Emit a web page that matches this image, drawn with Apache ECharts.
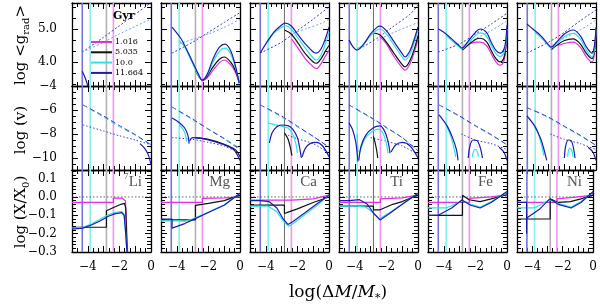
<!DOCTYPE html>
<html><head><meta charset="utf-8">
<script src="https://cdn.jsdelivr.net/npm/echarts@6/dist/echarts.min.js"></script>
<style>html,body{margin:0;padding:0;background:#fff}#c{width:600px;height:304px}</style>
</head><body><div id="c"></div>
<script>
// ---------------- DATA ----------------
const ELEMENTS = ['Li','Mg','Ca','Ti','Fe','Ni'];
const AGES = ['1.016','5.035','10.0','11.664'];          // legend order (magenta, black, cyan, blue)
const CZ_BASE = [-4.35,-3.85,-2.82,-2.38];              // vertical lines: 11.664, 10.0, 5.035, 1.016 Gyr
const X_LABELS = [-4,-2,0];
const Y1_LABELS = [4,5];
const Y2_LABELS = [-10,-8,-6,-4];
const Y3_LABELS = [-0.3,-0.2,-0.1,0,0.1];

// Row 1: log <g_rad>  curves order [11.664 blue, 10.0 cyan, 5.035 black, 1.016 magenta]
const GRAD_LI = [[[-4.35,3.72],[-4.15,3.5],[-3.95,3.2]],[],[],[]];
const GRAD_MG = [
 [[-4.3,5.06],[-3.75,4.72],[-3.5,4.5],[-3,4.0],[-2.6,3.6],[-2.4,3.45],[-2.1,3.6],[-1.7,4.1],[-1.3,4.45],[-0.95,4.54],[-0.6,4.35],[-0.3,3.9],[-0.05,3.36]],
 [[-3.85,4.65],[-3.5,4.45],[-3,3.95],[-2.6,3.55],[-2.4,3.45],[-2.1,3.58],[-1.7,4.0],[-1.3,4.33],[-0.95,4.42],[-0.6,4.25],[-0.3,3.85],[-0.05,3.36]],
 [[-2.82,3.75],[-2.6,3.55],[-2.4,3.45],[-2.1,3.55],[-1.7,3.85],[-1.3,4.08],[-1.0,4.15],[-0.6,4.0],[-0.3,3.75],[-0.05,3.36]],
 [[-2.38,3.42],[-2.1,3.5],[-1.7,3.75],[-1.3,3.98],[-1.0,4.06],[-0.6,3.92],[-0.3,3.7],[-0.05,3.36]]
];
const GRAD_CA = [
 [[-4.35,4.27],[-4,4.55],[-3.5,4.9],[-3,5.12],[-2.78,5.18],[-2.4,5.1],[-2,4.85],[-1.5,4.55],[-1.0,4.3],[-0.8,4.27],[-0.5,4.4],[-0.2,4.75],[0,5.06]],
 [[-3.85,4.62],[-3.5,4.87],[-3,5.05],[-2.75,5.1],[-2.4,5.0],[-2,4.75],[-1.5,4.42],[-1,4.12],[-0.8,4.06],[-0.5,4.22],[-0.2,4.6],[0,4.9]],
 [[-2.82,4.97],[-2.4,4.85],[-2,4.6],[-1.5,4.25],[-1,4.0],[-0.8,3.96],[-0.5,4.1],[-0.2,4.35],[0,4.5]],
 [[-2.38,4.7],[-2,4.45],[-1.5,4.1],[-1,3.85],[-0.8,3.8],[-0.5,3.95],[-0.2,4.2],[0,4.35]]
];
const GRAD_TI = [
 [[-4.37,4.67],[-4.1,4.45],[-3.86,4.36],[-3.5,4.5],[-3,4.85],[-2.6,5.05],[-2.4,5.09],[-2,4.95],[-1.5,4.6],[-1.0,4.25],[-0.82,4.15],[-0.5,4.35],[-0.2,4.75],[0,5.06]],
 [[-3.86,4.4],[-3.5,4.5],[-3,4.8],[-2.6,4.97],[-2.4,5.0],[-2,4.85],[-1.5,4.5],[-1,4.15],[-0.82,4.06],[-0.5,4.25],[-0.2,4.65],[0,4.95]],
 [[-2.82,4.88],[-2.4,4.82],[-2,4.6],[-1.5,4.25],[-1,3.92],[-0.82,3.85],[-0.5,4.05],[-0.2,4.45],[0,4.8]],
 [[-2.38,4.76],[-2,4.55],[-1.5,4.15],[-1,3.82],[-0.82,3.75],[-0.5,3.95],[-0.2,4.35],[0,4.7]]
];
const GRAD_FE = [
 [[-4.35,5.0],[-4,4.9],[-3.5,4.7],[-3,4.48],[-2.85,4.42],[-2.5,4.6],[-2,4.9],[-1.7,5.0],[-1.3,4.9],[-1,4.6],[-0.7,4.35],[-0.44,4.27],[-0.2,4.38],[-0.08,4.65],[0,5.12]],
 [[-3.85,4.8],[-3.5,4.65],[-3,4.45],[-2.85,4.4],[-2.5,4.55],[-2,4.8],[-1.7,4.88],[-1.3,4.78],[-1,4.5],[-0.7,4.25],[-0.44,4.16],[-0.2,4.28],[-0.08,4.55],[0,5.0]],
 [[-2.82,4.36],[-2.5,4.5],[-2,4.68],[-1.7,4.72],[-1.3,4.62],[-1,4.35],[-0.7,4.1],[-0.44,4.0],[-0.2,4.12],[-0.08,4.45],[0,4.9]],
 [[-2.38,4.55],[-2,4.6],[-1.7,4.6],[-1.3,4.5],[-1,4.25],[-0.7,4.0],[-0.44,3.9],[-0.2,4.02],[-0.08,4.4],[0,4.85]]
];
const GRAD_NI = [
 [[-4.37,5.15],[-4,5.0],[-3.5,4.8],[-3,4.52],[-2.85,4.45],[-2.5,4.6],[-2,4.85],[-1.45,4.97],[-1,4.8],[-0.6,4.45],[-0.25,4.27],[-0.1,4.5],[0,5.06]],
 [[-3.85,4.9],[-3.5,4.75],[-3,4.5],[-2.85,4.42],[-2.5,4.55],[-2,4.77],[-1.45,4.87],[-1,4.7],[-0.6,4.35],[-0.25,4.15],[-0.1,4.4],[0,5.0]],
 [[-2.82,4.38],[-2.5,4.5],[-2,4.65],[-1.45,4.7],[-1,4.55],[-0.6,4.25],[-0.25,4.1],[-0.1,4.35],[0,4.95]],
 [[-2.38,4.5],[-2,4.56],[-1.45,4.6],[-1,4.45],[-0.6,4.15],[-0.25,4.0],[-0.1,4.25],[0,4.9]]
];
// Row 1 dotted lines [dark blue, light blue]
const GDOT_LI = [[[-4.35,4.3],[-3,4.75],[-2,5.1],[-1,5.45],[0,5.8]], [[-4.35,4.3],[-3,4.6],[-2,4.85],[-1,5.08],[0,5.3]]];
const GDOT_MG = [[[-4.3,4.27],[-3,4.6],[-2,4.9],[-1,5.2],[0,5.5]], [[-3.85,4.55],[-2,4.85],[-1,5.05],[0,5.3]]];
const GDOT_CA = [[[-4.35,4.27],[-3,4.6],[-2,4.95],[-1,5.3],[0,5.67]], [[-2.5,4.85],[-1.5,5.0],[-0.5,5.17],[0,5.3]]];
const GDOT_TI = [[[-3.5,4.45],[-2.5,4.75],[-1.5,5.1],[-0.5,5.45],[0,5.73]], [[-2.6,4.65],[-1.5,4.9],[-0.5,5.1],[0,5.2]]];
const GDOT_FE = [[[-4.35,4.3],[-3,4.55],[-2,4.85],[-1,5.15],[0,5.48]], [[-2.8,4.5],[-2,4.7],[-1,4.95],[0,5.25]]];
const GDOT_NI = [[[-4.37,4.27],[-3,4.6],[-2,4.9],[-1,5.25],[0,5.58]], [[-2.8,4.5],[-2,4.72],[-1,4.97],[0,5.27]]];

// Row 2: log(v) solid segments per curve [blue, cyan, black, magenta]
const VEL_LI = [[[[-0.7,-8.8],[-0.4,-9.2],[-0.15,-9.8],[0,-10.6]]],[],[],[]];
const VEL_MG = [
 [[[-4.3,-6.67],[-3.9,-7.0],[-3.5,-7.5],[-3.3,-8.1],[-3.22,-8.8]], [[-3.2,-8.6],[-3.0,-8.3],[-2.5,-8.35],[-2,-8.5],[-1,-8.9],[-0.4,-9.3],[0,-10.2]]],
 [[[-3.85,-7.25],[-3.6,-7.6],[-3.45,-8.1],[-3.38,-8.6]]],
 [[[-2.82,-8.3],[-2,-8.45],[-1,-8.85],[-0.3,-9.3],[0,-9.9]]],
 []
];
const VEL_CA = [
 [[[-3.77,-8.75],[-3.6,-7.9],[-3.3,-7.4],[-3.0,-7.25],[-2.6,-7.3],[-2.3,-7.6],[-2.0,-8.3],[-1.85,-9.2],[-1.75,-10.0]], [[-1.7,-9.9],[-1.5,-9.2],[-1.2,-8.8],[-0.8,-8.7],[-0.4,-9.0],[0,-9.9]]],
 [[[-3.85,-7.1],[-3.5,-7.2],[-3.0,-7.35],[-2.6,-7.5],[-2.3,-8.0],[-2.1,-8.8],[-2.0,-9.6]]],
 [[[-2.82,-7.9],[-2.6,-8.4],[-2.45,-9.1],[-2.35,-9.8]]],
 []
];
const VEL_TI = [
 [[[-4.37,-7.1],[-4.15,-7.6],[-3.95,-8.6],[-3.85,-9.6],[-3.8,-10.3]], [[-3.75,-10.2],[-3.6,-9.0],[-3.3,-8.1],[-2.85,-7.5],[-2.4,-7.33],[-2.1,-7.8],[-1.9,-8.6],[-1.77,-9.6]], [[-1.7,-9.5],[-1.4,-8.9],[-1.0,-8.7],[-0.5,-9.0],[0,-10.0]]],
 [[[-3.85,-8.0],[-3.8,-9.5]], [[-3.7,-9.6],[-3.4,-8.5],[-3.0,-7.9],[-2.5,-7.6],[-2.2,-8.0],[-2.0,-8.8],[-1.9,-9.6]]],
 [[[-2.82,-8.2],[-2.7,-8.8],[-2.6,-9.5],[-2.55,-10.0]]],
 []
];
const VEL_FE = [
 [[[-4.3,-6.4],[-3.8,-7.3],[-3.45,-8.3],[-3.2,-9.3],[-3.1,-10.2]], [[-2.45,-10.0],[-2.35,-9.0],[-2.15,-8.5],[-1.9,-8.55],[-1.7,-9.1],[-1.55,-10.0]], [[-0.5,-9.1],[-0.2,-9.5],[0,-10.2]]],
 [[[-3.85,-7.25],[-3.55,-8.2],[-3.35,-9.2],[-3.25,-9.9]], [[-2.2,-9.9],[-2.05,-9.3],[-1.95,-9.3],[-1.8,-9.9]]],
 [], []
];
const VEL_NI = [
 [[[-4.37,-6.5],[-3.9,-7.3],[-3.5,-8.4],[-3.25,-9.5],[-3.12,-10.2]], [[-2.0,-10.0],[-1.92,-9.0],[-1.75,-8.5],[-1.55,-8.6],[-1.42,-9.2],[-1.33,-10.0]], [[-0.5,-9.1],[-0.2,-9.5],[0,-10.2]]],
 [[[-3.85,-7.3],[-3.6,-8.2],[-3.4,-9.2],[-3.3,-9.8]], [[-1.8,-9.9],[-1.68,-9.2],[-1.55,-9.3],[-1.45,-9.9]]],
 [], []
];
// Row 2 broken lines [blue dashed, cyan dashed, blue dotted]
const VDASH_LI = [[[-4.3,-5.58],[-3,-6.5],[-2,-7.3],[-1,-8.05],[0,-8.9]], [[-3.85,-5.95],[-3,-6.6],[-2,-7.4],[-1,-8.1],[0,-8.9]], [[-4.3,-7.25],[-3,-7.75],[-2,-8.15],[-1,-8.5],[0,-8.9]]];
const VDASH_MG = [[[-4.3,-5.75],[-3,-6.75],[-2,-7.6],[-1,-8.4],[0,-9.3]], [[-3.85,-6.15],[-3,-6.8],[-2,-7.6],[-1,-8.35],[0,-9.2]], [[-4.3,-8.3],[-3,-8.45],[-2,-8.7],[-1,-9.0],[0,-9.6]]];
const VDASH_CA = [[[-4.35,-5.58],[-3,-6.5],[-2,-7.35],[-1,-8.2],[0,-9.1]], [[-3.85,-5.95],[-3,-6.6],[-2,-7.4],[-1,-8.2],[0,-9.1]], [[-2.6,-8.1],[-2,-8.4],[-1,-8.8],[0,-9.6]]];
const VDASH_TI = [[[-4.37,-5.58],[-3,-6.6],[-2,-7.45],[-1,-8.3],[0,-9.4]], [[-3.85,-6.0],[-3,-6.65],[-2,-7.5],[-1,-8.3],[0,-9.4]], [[-3.0,-8.3],[-2,-8.6],[-1,-9.0],[0,-9.7]]];
const VDASH_FE = [[[-4.3,-5.58],[-3,-6.5],[-2,-7.3],[-1,-8.05],[0,-8.9]], [[-3.85,-5.9],[-3,-6.55],[-2,-7.35],[-1,-8.1],[0,-8.9]], [[-2.9,-8.0],[-2,-8.5],[-1,-8.8],[0,-9.3]]];
const VDASH_NI = [[[-4.37,-5.8],[-3,-6.6],[-2,-7.35],[-1,-8.1],[0,-8.95]], [[-3.85,-6.05],[-3,-6.65],[-2,-7.4],[-1,-8.15],[0,-8.95]], [[-2.9,-8.0],[-2,-8.45],[-1,-8.8],[0,-9.3]]];

// Row 3: log(X/X0) [blue, cyan, black, magenta]
const ABUN_LI = [
 [[-5,-0.175],[-4.3,-0.17],[-3.7,-0.15],[-3.2,-0.13],[-2.7,-0.105],[-2.3,-0.092],[-1.85,-0.085],[-1.7,-0.1],[-1.6,-0.2],[-1.52,-0.3]],
 [[-5,-0.17],[-4.3,-0.165],[-3.7,-0.145],[-3.2,-0.12],[-2.7,-0.097],[-2.3,-0.085],[-1.85,-0.078],[-1.7,-0.095],[-1.6,-0.2],[-1.53,-0.3]],
 [[-5,-0.165],[-2.82,-0.165],[-2.82,-0.075],[-2.3,-0.055],[-1.9,-0.04],[-1.68,-0.035],[-1.6,-0.06],[-1.52,-0.3]],
 [[-5,-0.03],[-2.38,-0.03],[-2.38,-0.006],[-1.85,-0.006],[-1.62,-0.02],[-1.55,-0.15],[-1.48,-0.3]]
];
const ABUN_MG = [
 [[-5,-0.12],[-4.3,-0.12],[-4.3,-0.17],[-3.5,-0.145],[-3,-0.125],[-2,-0.085],[-1,-0.045],[0,0.02]],
 [[-5,-0.13],[-3.85,-0.13],[-3.5,-0.133],[-3,-0.12],[-2,-0.082],[-1,-0.042],[0,0.02]],
 [[-5,-0.125],[-2.82,-0.125],[-2.82,-0.046],[-2,-0.035],[-1,-0.02],[0,0.01]],
 [[-5,-0.03],[-2.38,-0.03],[-2.38,-0.008],[-1,-0.005],[0,0.0]]
];
const ABUN_CA = [
 [[-5,-0.02],[-4.35,-0.02],[-3.8,-0.025],[-3.3,-0.06],[-2.9,-0.12],[-2.6,-0.15],[-2.3,-0.135],[-1.5,-0.085],[-0.8,-0.04],[0,0.01]],
 [[-5,-0.05],[-3.85,-0.05],[-3.3,-0.08],[-2.9,-0.13],[-2.55,-0.16],[-2.2,-0.14],[-1.5,-0.095],[-0.8,-0.05],[0,0.01]],
 [[-5,-0.045],[-2.82,-0.045],[-2.82,-0.09],[-2.5,-0.08],[-2,-0.065],[-1,-0.03],[0,0.0]],
 [[-5,-0.017],[-2.38,-0.017],[-1,-0.01],[0,0.01]]
];
const ABUN_TI = [
 [[-5,-0.02],[-4.35,-0.02],[-3.7,-0.015],[-3.2,-0.04],[-2.8,-0.09],[-2.4,-0.125],[-1.8,-0.09],[-1,-0.04],[0,0.02]],
 [[-5,-0.05],[-3.85,-0.05],[-3.3,-0.055],[-2.8,-0.09],[-2.45,-0.12],[-1.8,-0.085],[-1,-0.04],[0,0.02]],
 [[-5,-0.05],[-2.82,-0.05],[-2.82,-0.07],[-2.4,-0.07],[-1.6,-0.04],[-1,-0.025],[0,0.01]],
 [[-5,-0.03],[-2.38,-0.03],[-2.38,-0.01],[-1,-0.005],[0,0.01]]
];
const ABUN_FE = [
 [[-5,-0.1],[-4.35,-0.1],[-3.5,-0.06],[-2.85,-0.017],[-2.3,-0.045],[-1.7,-0.06],[-1,-0.03],[0,0.03]],
 [[-5,-0.06],[-3.85,-0.06],[-3.3,-0.04],[-2.85,-0.02],[-2.3,-0.04],[-1.7,-0.055],[-1,-0.025],[0,0.025]],
 [[-5,-0.1],[-2.82,-0.1],[-2.82,0.01],[-2.4,-0.015],[-1.7,-0.025],[-1,-0.01],[0,0.012]],
 [[-5,-0.03],[-2.38,-0.03],[-2.38,-0.008],[-1,0.0],[0,0.012]]
];
const ABUN_NI = [
 [[-5,-0.03],[-4.37,-0.03],[-4.37,-0.2],[-4.36,-0.115],[-3.5,-0.065],[-2.85,-0.01],[-2.3,-0.04],[-1.45,-0.06],[-0.8,-0.03],[0,0.03]],
 [[-5,-0.06],[-3.85,-0.06],[-3.4,-0.04],[-2.85,-0.015],[-2.3,-0.035],[-1.45,-0.055],[-0.8,-0.025],[0,0.025]],
 [[-5,-0.12],[-2.82,-0.12],[-2.82,-0.01],[-2.3,-0.03],[-1.5,-0.025],[-0.8,-0.01],[0,0.01]],
 [[-5,-0.03],[-2.38,-0.03],[-2.38,-0.01],[-1,0.0],[0,0.01]]
];

// ---------------- BUILD ----------------
const GRAD = [GRAD_LI,GRAD_MG,GRAD_CA,GRAD_TI,GRAD_FE,GRAD_NI];
const GDOT = [GDOT_LI,GDOT_MG,GDOT_CA,GDOT_TI,GDOT_FE,GDOT_NI];
const VEL = [VEL_LI,VEL_MG,VEL_CA,VEL_TI,VEL_FE,VEL_NI];
const VDASH = [VDASH_LI,VDASH_MG,VDASH_CA,VDASH_TI,VDASH_FE,VDASH_NI];
const ABUN = [ABUN_LI,ABUN_MG,ABUN_CA,ABUN_TI,ABUN_FE,ABUN_NI];

const CURVE_COLORS = ['#1c1cb0','#2ee2e2','#111111','#e02ee0'];
const VLINE_COLORS = ['#7474dc','#86f0f0','#b2b2b2','#f096f0'];
const COL_LEFT = [72,161,250,339,428,517], PW = 79;
const ROW_TOP = [3,86,170], ROW_H = [83,84,82];
const YR = [[3.27,5.79],[-11,-4],[-0.3,0.147]];
const FONT = 'DejaVu Serif';

function range(a,b,s){const o=[];for(let k=0;a+k*s<=b+1e-9;k++)o.push(+(a+k*s).toFixed(6));return o;}
const X_MAJ = range(-5,0,1);
const X_MIN = range(-5,0,1/3).filter(v=>Math.abs(v-Math.round(v))>1e-6);
const Y_MAJ = [[4,5], Y2_LABELS, Y3_LABELS];
const Y_MIN = [
  range(10/3,5.7,1/3).filter(v=>Math.abs(v-Math.round(v))>1e-6),
  range(-10.5,-4.5,0.5).filter(v=>Math.abs(v/2-Math.round(v/2))>1e-6),
  range(-0.28,0.14,0.02).filter(v=>Math.abs(v*10-Math.round(v*10))>1e-6)
];
const Y_LAB = [Y1_LABELS,Y2_LABELS,Y3_LABELS];
const mn = s => String(s).replace('-','\u2212');
const Y_FMT = [v=>v.toFixed(1), v=>mn(v), v=>mn((Math.abs(v)<1e-9?0:v).toFixed(1))];

const grids=[], xAxes=[], yAxes=[], series=[], graphics=[];
const lblStyle = {fontFamily:FONT,fontSize:12,color:'#000'};
const AXW = 1.3;

function xAx(gi,pos,ticks,len,line,labels){
  return {type:'value',gridIndex:gi,position:pos,min:-5,max:0,
    axisLine:{show:line,onZero:false,lineStyle:{color:'#000',width:AXW}},
    axisTick:{show:true,inside:true,length:len,customValues:ticks,lineStyle:{color:'#000',width:1}},
    axisLabel: labels?{show:true,customValues:X_LABELS,formatter:v=>mn(v),margin:9,...lblStyle}:{show:false},
    splitLine:{show:false}};
}
function yAx(gi,r,pos,ticks,len,line,labels){
  return {type:'value',gridIndex:gi,position:pos,min:YR[r][0],max:YR[r][1],
    axisLine:{show:line,onZero:false,lineStyle:{color:'#000',width:AXW}},
    axisTick:{show:true,inside:true,length:len,customValues:ticks,lineStyle:{color:'#000',width:1}},
    axisLabel: labels?{show:true,customValues:Y_LAB[r],formatter:Y_FMT[r],margin:15,...lblStyle}:{show:false},
    splitLine:{show:false}};
}
function line(gi,data,color,width,type,smooth,z){
  if(!data||!data.length) return;
  series.push({type:'line',xAxisIndex:gi*4,yAxisIndex:gi*4,data:data,symbol:'none',silent:true,
    smooth:smooth,lineStyle:{color:color,width:width,type:type},z:z,animation:false});
}

for(let r=0;r<3;r++){
  for(let c=0;c<6;c++){
    const gi=r*6+c;
    grids.push({left:COL_LEFT[c],top:ROW_TOP[r],width:PW,height:ROW_H[r]});
    xAxes.push(xAx(gi,'bottom',X_MAJ,6,true,r===2), xAx(gi,'bottom',X_MIN,4,false,false),
               xAx(gi,'top',X_MAJ,6,true,false), xAx(gi,'top',X_MIN,4,false,false));
    yAxes.push(yAx(gi,r,'left',Y_MAJ[r],6,true,c===0), yAx(gi,r,'left',Y_MIN[r],4,false,false),
               yAx(gi,r,'right',Y_MAJ[r],6,true,false), yAx(gi,r,'right',Y_MIN[r],4,false,false));
    // vertical lines (bottoms of mixed zones)
    CZ_BASE.forEach((x,k)=>{
      const dark = (k===2 && (c===2||c===3));
      line(gi,[[x,YR[r][0]],[x,YR[r][1]]], dark?'#6a6a6a':VLINE_COLORS[k], dark?1:1.6,'solid',false,1);
    });
    if(r===0){
      line(gi,GDOT[c][0],'#3a3ac4',1,[2,2],0.3,2);
      line(gi,GDOT[c][1],'#6aa6e6',1,[2,2],0.3,2);
      for(let k=3;k>=0;k--) line(gi,GRAD[c][k],CURVE_COLORS[k],1.2,'solid',0.35,3);
    } else if(r===1){
      line(gi,VDASH[c][1],'#46cfe6',1,[5,3],0.2,2);
      line(gi,VDASH[c][0],'#3a3ac4',1,[5,3],0.2,2);
      line(gi,VDASH[c][2],'#3a3ac4',1,[1.5,2],0.2,2);
      for(let k=3;k>=0;k--) VEL[c][k].forEach(seg=>line(gi,seg,CURVE_COLORS[k],1.2,'solid',0.3,3));
    } else {
      line(gi,[[-5,0],[0,0]],'#444',0.8,[1.5,2],false,2);
      for(let k=3;k>=0;k--) line(gi,ABUN[c][k],CURVE_COLORS[k],1.2,'solid',false,3);
    }
  }
}

// element labels
const LABEL_RIGHT=[142,230,317,403,493,582];
ELEMENTS.forEach((el,c)=>{
  graphics.push({type:'text',x:LABEL_RIGHT[c],y:182,z:50,style:{text:el,fontFamily:'Liberation Serif',fontSize:15,fill:'#555',align:'right',verticalAlign:'middle'}});
});
graphics.push({type:'text',x:128.5,y:177,z:50,style:{text:'7',fontFamily:'Liberation Serif',fontSize:9,fill:'#555',align:'right',verticalAlign:'middle'}});

// legend
graphics.push({type:'text',x:113,y:16.5,z:50,style:{text:'Gyr',fontFamily:FONT,fontWeight:'bold',fontSize:11,fill:'#000',align:'left',verticalAlign:'middle'}});
const LEG_COL=[CURVE_COLORS[3],CURVE_COLORS[2],CURVE_COLORS[1],CURVE_COLORS[0]];
AGES.forEach((a,i)=>{
  const y=42+i*10.3;
  graphics.push({type:'line',z:50,shape:{x1:91,y1:y,x2:112,y2:y},style:{stroke:LEG_COL[i],lineWidth:2}});
  graphics.push({type:'text',x:115,y:y,z:50,style:{text:a,fontFamily:FONT,fontSize:8,fill:'#000',align:'left',verticalAlign:'middle'}});
});

// axis titles
const rich = {s:{fontFamily:FONT,fontSize:10,lineHeight:10,verticalAlign:'bottom'},
              m:{fontFamily:FONT,fontSize:15,lineHeight:20},
              i:{fontFamily:FONT,fontSize:17,fontStyle:'italic',lineHeight:22},
              b:{fontFamily:FONT,fontSize:17,lineHeight:22},
              bs:{fontFamily:FONT,fontSize:11,lineHeight:11,verticalAlign:'bottom'}};
function ytitle(txt,y){graphics.push({type:'text',x:21,y:y,rotation:Math.PI/2,z:50,style:{text:txt,rich:rich,fill:'#000',align:'center',verticalAlign:'middle'}});}
ytitle('{m|log <g}{s|rad}{m|>}',45);
ytitle('{m|log (v)}',130);
ytitle('{m|log (X/X}{s|0}{m|)}',212);
graphics.push({type:'text',x:338,y:293,z:50,style:{text:'{b|log(\u0394}{i|M}{b|/}{i|M}{bs|*}{b|)}',rich:rich,fill:'#000',align:'center',verticalAlign:'middle'}});

const chart = echarts.init(document.getElementById('c'),null,{renderer:'canvas',width:600,height:304});
chart.setOption({animation:false,grid:grids,xAxis:xAxes,yAxis:yAxes,series:series,graphic:graphics});
</script></body></html>
